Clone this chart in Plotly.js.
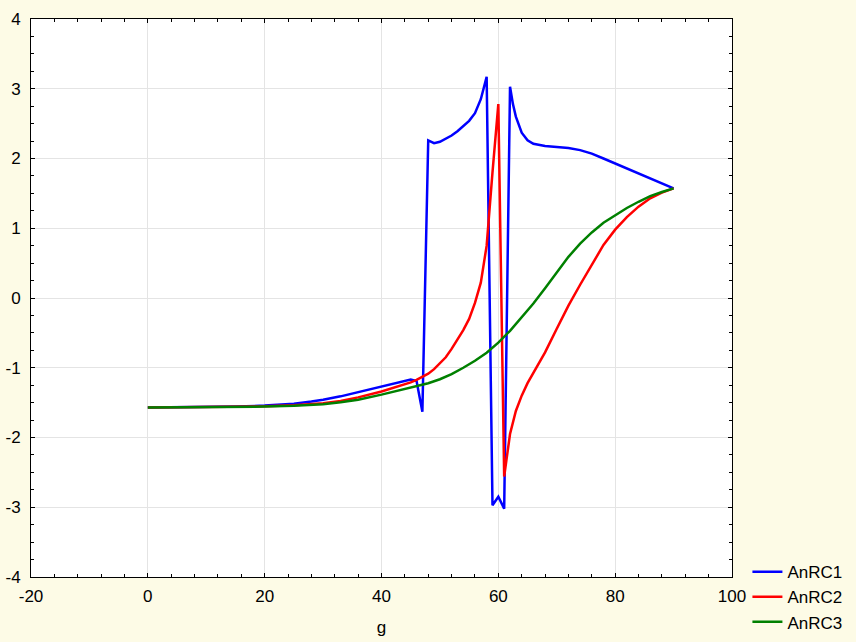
<!DOCTYPE html>
<html>
<head>
<meta charset="utf-8">
<script src="https://cdn.plot.ly/plotly-3.0.1.min.js"></script>
<style>
  html, body { margin: 0; padding: 0; background: #fdfbe6; }
  #chart { width: 856px; height: 642px; }
</style>
</head>
<body>
<div id="chart"></div>
<script>
// values
const xBlue = [0, 5, 10, 15, 20, 25, 28, 30, 33, 36, 40, 43, 45, 46, 47, 48, 49, 50, 51, 52, 53, 54, 55, 56, 57, 58, 59, 60, 61, 62, 62.5, 63, 64, 65, 66, 68, 70, 72, 74, 76, 78, 80, 82, 84, 86, 88, 90];
const anRC1 = [-1.571, -1.569, -1.565, -1.556, -1.543, -1.515, -1.485, -1.46, -1.41, -1.35, -1.275, -1.21, -1.168, -1.19, -1.63, 2.26, 2.22, 2.24, 2.28, 2.33, 2.39, 2.46, 2.54, 2.65, 2.85, 3.17, -2.97, -2.85, -3.02, 3.03, 2.78, 2.6, 2.37, 2.26, 2.21, 2.18, 2.165, 2.15, 2.12, 2.07, 2.0, 1.93, 1.85, 1.78, 1.71, 1.64, 1.571];

const xRed = [0, 5, 10, 15, 20, 25, 28, 30, 33, 36, 40, 43, 45, 46, 47, 48, 49, 50, 51, 52, 53, 54, 55, 56, 57, 58, 59, 60, 61, 62, 63, 64, 65, 66, 67, 68, 70, 72, 74, 76, 78, 80, 82, 84, 86, 88, 90];
const anRC2 = [-1.571, -1.569, -1.566, -1.561, -1.553, -1.537, -1.522, -1.508, -1.478, -1.425, -1.34, -1.265, -1.21, -1.175, -1.13, -1.085, -1.02, -0.94, -0.85, -0.73, -0.6, -0.46, -0.3, -0.07, 0.22, 0.75, 1.8, 2.78, -2.56, -1.95, -1.62, -1.4, -1.22, -1.07, -0.93, -0.78, -0.44, -0.11, 0.19, 0.48, 0.76, 0.98, 1.16, 1.31, 1.43, 1.51, 1.571];

const xGreen = [0, 5, 10, 15, 20, 25, 28, 30, 33, 36, 40, 43, 45, 47, 48, 50, 52, 54, 56, 58, 60, 62, 64, 66, 68, 70, 72, 74, 76, 78, 80, 82, 84, 86, 88, 90];
const anRC3 = [-1.571, -1.569, -1.567, -1.563, -1.557, -1.545, -1.533, -1.522, -1.495, -1.458, -1.385, -1.325, -1.285, -1.245, -1.222, -1.165, -1.09, -1.0, -0.9, -0.785, -0.64, -0.47, -0.28, -0.08, 0.14, 0.37, 0.59, 0.78, 0.94, 1.08, 1.19, 1.29, 1.38, 1.46, 1.52, 1.571];

const xTicks = [-20, 0, 20, 40, 60, 80, 100];
const xTickText = ['-20', '0', '20', '40', '60', '80', '100'];
const yTicks = [-4, -3, -2, -1, 0, 1, 2, 3, 4];
const yTickText = ['-4', '-3', '-2', '-1', '0', '1', '2', '3', '4'];

const font = { family: 'Arial, "Liberation Sans", sans-serif', size: 17, color: '#000' };

function line(x, y, name, color) {
    return {
        x: x,
        y: y,
        name: name,
        type: 'scatter',
        mode: 'lines',
        line: { color: color, width: 2.5 }
    };
}

const traces = [
    line(xBlue, anRC1, 'AnRC1', '#0000ff'),
    line(xRed, anRC2, 'AnRC2', '#ff0000'),
    line(xGreen, anRC3, 'AnRC3', '#008000')
];

const axisCommon = {
    showline: true,
    linecolor: '#000',
    linewidth: 1,
    mirror: 'ticks',
    ticks: 'inside',
    ticklen: 4,
    tickcolor: '#000',
    tickmode: 'array',
    showgrid: true,
    gridcolor: '#e4e4e4',
    gridwidth: 1,
    zeroline: false,
    automargin: false,
    tickfont: font
};

const layout = {
    width: 856,
    height: 642,
    paper_bgcolor: '#fdfbe6',
    plot_bgcolor: '#ffffff',
    margin: { l: 31, r: 124, t: 19, b: 65, autoexpand: false },
    font: font,
    showlegend: true,
    legend: {
        x: 1.022,
        xanchor: 'left',
        y: 0.041,
        yanchor: 'top',
        bgcolor: 'rgba(0,0,0,0)',
        font: font,
        tracegroupgap: 0
    },
    xaxis: Object.assign({}, axisCommon, {
        range: [-20, 100],
        tickvals: xTicks,
        ticktext: xTickText,
        ticklabelstandoff: 4,
        minor: { tickmode: 'linear', tick0: 0, dtick: 4, ticks: 'inside', ticklen: 3, tickcolor: '#000', showgrid: false },
        title: { text: 'g', font: font, standoff: 15 }
    }),
    yaxis: Object.assign({}, axisCommon, {
        range: [-4, 4],
        tickvals: yTicks,
        ticktext: yTickText,
        ticklabelstandoff: 6,
        minor: { tickmode: 'linear', tick0: 0, dtick: 0.25, ticks: 'inside', ticklen: 3, tickcolor: '#000', showgrid: false }
    })
};

Plotly.newPlot('chart', traces, layout, {
    displayModeBar: false,
    staticPlot: true
});
</script>
</body>
</html>
